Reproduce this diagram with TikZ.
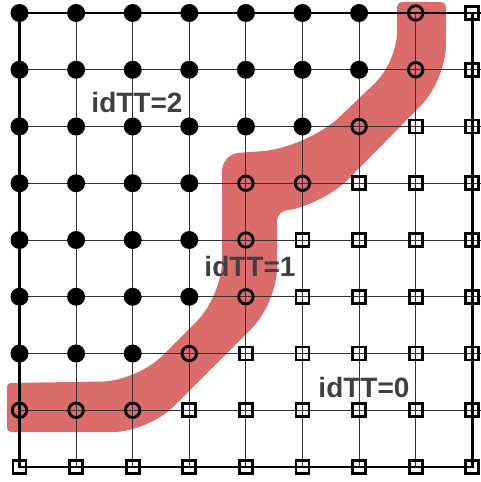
\documentclass[tikz,border=0pt]{standalone}
\usepackage{fontspec}
\setmainfont{Liberation Sans}
\usetikzlibrary{positioning}

\definecolor{bandred}{RGB}{218,108,108}
\definecolor{labelgray}{RGB}{64,64,64}

\begin{document}
\begin{tikzpicture}[
        x=1pt, y=-1pt,
        gridline/.style={black!80, line width=0.9pt},
        frameline/.style={black, line width=2.6pt},
        dotmark/.style={circle, fill=black, inner sep=0pt, minimum size=18pt},
        ringmark/.style={circle, draw=black, line width=2.8pt, inner sep=0pt, minimum size=14.5pt},
        boxmark/.style={rectangle, draw=black, line width=2.8pt, inner sep=0pt, minimum size=13pt},
        idlabel/.style={font=\fontsize{28}{30}\selectfont\bfseries, text=labelgray, inner sep=0pt}
    ]
    \useasboundingbox (0,0) rectangle (481,482);

    % grid points
    \foreach \i in {0,...,8}
        \foreach \j in {0,...,8}
            \coordinate (g-\i-\j) at ({19.5+56.6*\i},{13+56.75*\j});
    \coordinate (rim) at (481,0);

    % separating band
    \fill[bandred, rounded corners=4pt] (7,383)
        [rounded corners=35pt] -- (137,381) -- (222,296)
        [rounded corners=17pt] -- (222,154)
        [rounded corners=45pt] -- (307,148)
        [rounded corners=30pt] -- (397,62)
        [rounded corners=5pt] -- (397,2) -- (446,2)
        [rounded corners=35pt] -- (446,80) -- (324,204)
        [rounded corners=9pt] -- (277,212)
        [rounded corners=35pt] -- (277,303) -- (148,432)
        [rounded corners=4pt] -- (7,432) -- cycle;

    \foreach \j in {1,...,7} \draw[gridline] (g-0-\j) -- (g-0-\j -| rim);
    \foreach \i in {1,...,7} \draw[gridline] (g-\i-0) -- (g-\i-8);
    \draw[frameline] (g-0-0 -| rim) -- (g-0-0) -- (g-0-8) -- (g-8-8) -- (g-8-0);

    % row / last dot / last ring
    \foreach \j/\a/\b in {0/6/7, 1/6/7, 2/5/6, 3/3/5, 4/3/4, 5/3/4, 6/2/3, 7/-1/2, 8/-1/-1} {
        \foreach \i in {0,...,8} {
            \ifnum\i>\b
                \node[boxmark] (p-\i-\j) at (g-\i-\j) {};
            \else\ifnum\i>\a
                \node[ringmark] (p-\i-\j) at (g-\i-\j) {};
            \else
                \node[dotmark] (p-\i-\j) at (g-\i-\j) {};
            \fi\fi
        }
    }

    \node[idlabel] (tt2) at (137,102) {idTT=2};
    \node[idlabel] (tt1) at (250,266) {idTT=1};
    \node[idlabel] (tt0) at (364,387) {idTT=0};
\end{tikzpicture}
\end{document}
